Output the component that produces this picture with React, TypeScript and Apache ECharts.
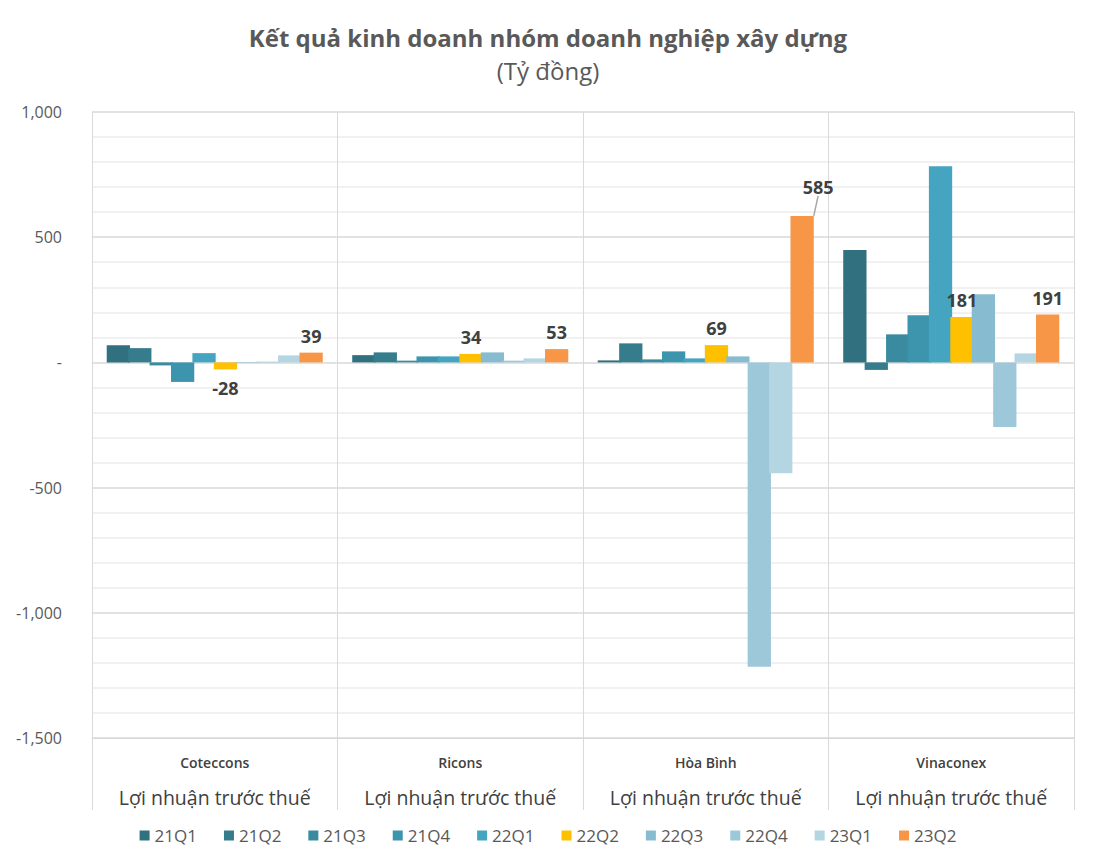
import React, { useEffect, useRef } from "react";
import * as echarts from "echarts";

const companies = ["Coteccons", "Ricons", "Hòa Bình", "Vinaconex"];
const metricLabel = "Lợi nhuận trước thuế";
const quarters = ["21Q1", "21Q2", "21Q3", "21Q4", "22Q1", "22Q2", "22Q3", "22Q4", "23Q1", "23Q2"];

// values per quarter, in order [Coteccons, Ricons, Hòa Bình, Vinaconex]
const q21Q1 = [68, 29, 8, 449];
const q21Q2 = [57, 40, 76, -30];
const q21Q3 = [-12, 7, 12, 112];
const q21Q4 = [-78, 24, 44, 188];
const q22Q1 = [37, 24, 16, 783];
const q22Q2 = [-28, 34, 69, 181];
const q22Q3 = [2, 40, 24, 272];
const q22Q4 = [3, 7, -1215, -258];
const q23Q1 = [28, 16, -443, 36];
const q23Q2 = [39, 53, 585, 191];
const seriesValues = [q21Q1, q21Q2, q21Q3, q21Q4, q22Q1, q22Q2, q22Q3, q22Q4, q23Q1, q23Q2];

const colors = [
  "#30707F", "#357C8D", "#3A8AA0", "#3D95AD", "#45A4C0",
  "#FFC000", "#87BCD0", "#9DC8DA", "#B4D5E2", "#F79646",
];
const labeledSeries = ["22Q2", "23Q2"];
// the one label that is moved aside with a leader line
const calloutSeries = "23Q2";
const calloutCompany = "Hòa Bình";

const FONT = "'Open Sans', 'Noto Sans', sans-serif";

export default function App() {
  const ref = useRef<HTMLDivElement>(null);
  useEffect(() => {
    document.body.style.margin = "0";
    if (!ref.current) return;
    const chart = echarts.init(ref.current, null, { renderer: "svg" });
    const calloutIdx = companies.indexOf(calloutCompany);
    const series = quarters.map((q, si) => {
      const labeled = labeledSeries.includes(q);
      return {
        name: q,
        type: "bar",
        barGap: "-8%",
        barCategoryGap: "12%",
        itemStyle: { color: colors[si] },
        data: seriesValues[si].map((v, ci) => {
          const item: any = { value: v };
          if (labeled && v < 0) item.label = { position: "bottom", distance: 10 };
          if (q === calloutSeries && ci === calloutIdx) {
            item.labelLine = { show: true, lineStyle: { color: "#A6A6A6", width: 1.5 } };
          }
          return item;
        }),
        label: {
          show: labeled,
          position: "top",
          distance: 8,
          color: "#404040",
          fontSize: 18,
          fontWeight: "bold",
          fontFamily: FONT,
        },
        labelLine: { show: false, lineStyle: { color: "#A6A6A6", width: 1.5 } },
        labelLayout: labeled
          ? (p: any) => (q === calloutSeries && p.dataIndex === calloutIdx ? { dx: 16, dy: -12 } : {})
          : undefined,
      };
    });
    chart.setOption({
      animation: false,
      backgroundColor: "#FFFFFF",
      textStyle: { fontFamily: FONT },
      title: [
        {
          text: "Kết quả kinh doanh nhóm doanh nghiệp xây dựng",
          left: "center",
          top: 20,
          textStyle: { fontFamily: FONT, fontSize: 24, fontWeight: "bold", color: "#595959" },
        },
        {
          text: "(Tỷ đồng)",
          left: "center",
          top: 53,
          textStyle: { fontFamily: FONT, fontSize: 24, fontWeight: "normal", color: "#595959" },
        },
      ],
      legend: {
        bottom: 19,
        left: "center",
        icon: "rect",
        itemWidth: 10,
        itemHeight: 10,
        itemGap: 27,
        textStyle: { fontFamily: FONT, fontSize: 17, color: "#595959" },
        data: quarters,
      },
      grid: { left: 92, right: 22, top: 112, bottom: 130 },
      xAxis: {
        type: "category",
        data: companies,
        position: "bottom",
        axisLine: { show: true, onZero: false, lineStyle: { color: "#D9D9D9" } },
        axisTick: { show: true, length: 72, interval: 0, lineStyle: { color: "#D9D9D9" } },
        splitLine: { show: true, interval: 0, lineStyle: { color: "#D9D9D9" } },
        axisLabel: {
          interval: 0,
          margin: 8,
          formatter: (v: string) => `{a|${v}}\n{b|${metricLabel}}`,
          rich: {
            a: { fontFamily: FONT, fontSize: 14, fontWeight: 600, color: "#404040", lineHeight: 32 },
            b: { fontFamily: FONT, fontSize: 19.5, color: "#404040", lineHeight: 38 },
          },
        },
      },
      yAxis: {
        type: "value",
        min: -1500,
        max: 1000,
        interval: 500,
        axisLine: { show: false },
        axisTick: { show: false },
        axisLabel: {
          margin: 30,
          fontFamily: FONT,
          fontSize: 16,
          color: "#595959",
          formatter: (v: number) => (v === 0 ? "-" : v.toLocaleString("en-US")),
        },
        splitLine: { show: true, lineStyle: { color: "#D9D9D9", width: 1.5 } },
        minorTick: { show: false, splitNumber: 5 },
        minorSplitLine: { show: true, lineStyle: { color: "#EDEDED", width: 1.5 } },
      },
      series,
    });
    return () => chart.dispose();
  }, []);
  return <div ref={ref} style={{ width: 1096, height: 868 }} />;
}
